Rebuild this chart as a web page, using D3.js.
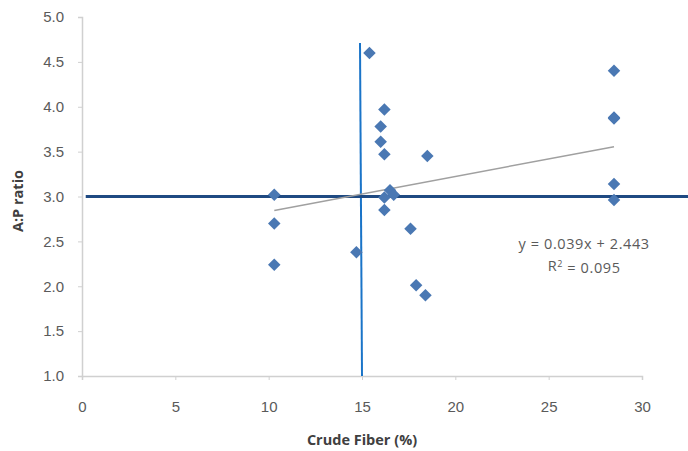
<!DOCTYPE html>
<html>
<head>
<meta charset="utf-8">
<script src="https://cdn.jsdelivr.net/npm/d3@7"></script>
<style>
  body { margin: 0; background: #fff; }
  svg { display: block; font-family: "Open Sans", "Liberation Sans", sans-serif; }
</style>
</head>
<body>
<div id="chart"></div>
<script>
// Crude fiber (%) vs A:P ratio
const fiber = [15.4, 16.2, 16.0, 16.0, 16.2, 18.5, 10.3, 16.5, 16.2, 16.7, 16.2, 10.3, 17.6, 14.7, 10.3, 17.9, 18.4, 28.5, 28.5, 28.5, 28.5, 28.5];
const ratio = [4.60, 3.97, 3.78, 3.61, 3.47, 3.45, 3.02, 3.07, 2.99, 3.02, 2.85, 2.70, 2.64, 2.38, 2.24, 2.01, 1.90, 4.40, 3.88, 3.87, 3.14, 2.96];

const xTicks = [0, 5, 10, 15, 20, 25, 30];
const yTicks = [1.0, 1.5, 2.0, 2.5, 3.0, 3.5, 4.0, 4.5, 5.0];

const trend = { slope: 0.039, intercept: 2.443, from: 10.3, to: 28.5 };
const refX = 15;   // vertical reference line
const refY = 3.0;  // horizontal reference line

const width = 688, height = 451;
const margin = { top: 17, right: 46, bottom: 75, left: 82 };

const svg = d3.select("#chart").append("svg")
    .attr("width", width)
    .attr("height", height);

const x = d3.scaleLinear([0, 30], [margin.left, width - margin.right]);
const y = d3.scaleLinear([1, 5], [height - margin.bottom, margin.top]);

// axes
const xAxis = svg.append("g")
    .attr("transform", `translate(0,${y(1)})`)
    .call(d3.axisBottom(x).tickValues(xTicks).tickFormat(d3.format("d")).tickSize(4).tickPadding(21));
const yAxis = svg.append("g")
    .attr("transform", `translate(${x(0)},0)`)
    .call(d3.axisLeft(y).tickValues(yTicks).tickFormat(d3.format(".1f")).tickSize(4).tickPadding(14));

[xAxis, yAxis].forEach(g => {
    g.selectAll(".domain").attr("stroke", "#d0d0d0").attr("stroke-width", 1.5);
    g.selectAll(".tick line").attr("stroke", "#d0d0d0");
    g.selectAll(".tick text").attr("fill", "#5a5a5a").style("font-size", "15px");
});

// reference lines
svg.append("line")
    .attr("x1", x(refX) - 2).attr("x2", x(refX))
    .attr("y1", y(4.71)).attr("y2", y(1))
    .attr("stroke", "#1a74c8").attr("stroke-width", 2);

svg.append("line")
    .attr("x1", x(0.2)).attr("x2", width)
    .attr("y1", y(refY)).attr("y2", y(refY))
    .attr("stroke", "#1f4a82").attr("stroke-width", 3);

// trendline
svg.append("line")
    .attr("x1", x(trend.from)).attr("y1", y(trend.slope * trend.from + trend.intercept))
    .attr("x2", x(trend.to)).attr("y2", y(trend.slope * trend.to + trend.intercept))
    .attr("stroke", "#a0a0a0").attr("stroke-width", 1.5);

// points
const diamond = d3.symbol().type(d3.symbolDiamond2).size(100);
svg.append("g")
    .selectAll("path")
    .data(d3.zip(fiber, ratio))
    .join("path")
    .attr("d", diamond)
    .attr("transform", d => `translate(${x(d[0])},${y(d[1])})`)
    .attr("fill", "#4a78b3");

// equation
const eqX = x(26.9);
svg.append("text")
    .attr("x", eqX)
    .attr("y", 249)
    .attr("text-anchor", "middle")
    .attr("fill", "#5a5a5a")
    .style("font-size", "14.5px")
    .style("letter-spacing", "0.6px")
    .text("y = 0.039x + 2.443");
const r2 = svg.append("text")
    .attr("x", eqX)
    .attr("y", 271)
    .attr("text-anchor", "middle")
    .attr("fill", "#5a5a5a")
    .style("font-size", "14.5px")
    .style("letter-spacing", "0.6px");
r2.append("tspan").text("R");
r2.append("tspan").attr("dy", "-0.4em").style("font-size", "9px").text("2");
r2.append("tspan").attr("dy", "0.4em").text(" = 0.095");

// axis titles
svg.append("text")
    .attr("x", x(15))
    .attr("y", 445)
    .attr("text-anchor", "middle")
    .attr("fill", "#404040")
    .style("font-size", "14.5px")
    .style("font-weight", "bold")
    .text("Crude Fiber (%)");

svg.append("text")
    .attr("transform", `translate(23,${y(2.95)}) rotate(-90)`)
    .attr("text-anchor", "middle")
    .attr("fill", "#404040")
    .style("font-size", "14.5px")
    .style("font-weight", "bold")
    .text("A:P ratio");
</script>
</body>
</html>
